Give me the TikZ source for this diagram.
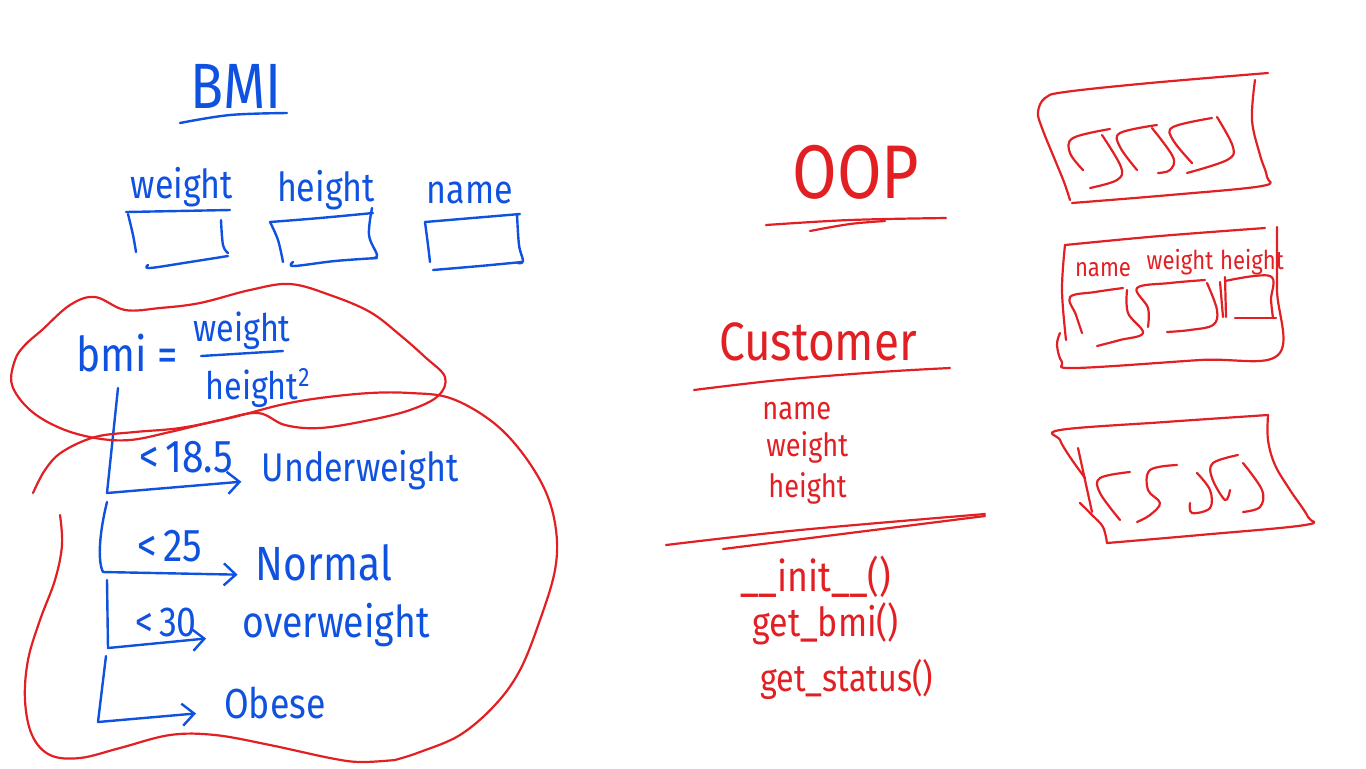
\documentclass[tikz,border=0pt]{standalone}
\usepackage{fontspec}
\setmainfont{Fira Sans}
\usetikzlibrary{arrows.meta}
\newcommand\myfs[1]{\fontsize{#1}{#1}\selectfont}
\definecolor{pblue}{RGB}{16,82,224}
\definecolor{pred}{RGB}{226,32,36}
\tikzset{
  bstroke/.style={draw=pblue, line width=1.2pt, line cap=round, line join=round},
  rstroke/.style={draw=pred, line width=1.1pt, line cap=round, line join=round},
  btext/.style={text=pblue, inner sep=0pt, xscale=0.85},
  rtext/.style={text=pred, inner sep=0pt, xscale=0.85},
  arr/.style={bstroke, -{Straight Barb[length=6pt,width=11pt]}},
  sm/.style={smooth, tension=0.6},
}
\begin{document}
\begin{tikzpicture}[x=0.5pt,y=-0.5pt]
\useasboundingbox (0,0) rectangle (1366,768);
\fill[white] (0,0) rectangle (1366,768);

% ---------------- left: BMI ----------------
\node[btext, font=\myfs{32}] (bmititle) at (236,86) {BMI};
\draw[bstroke] plot[sm] coordinates {(180,123) (230,115) (287,113)};

\node[btext, font=\myfs{20}] (wlbl) at (182,187) {weight};
\node[btext, font=\myfs{20}] (hlbl) at (326,190) {height};
\node[btext, font=\myfs{20}] (nlbl) at (470,193) {name};

% weight box
\draw[bstroke] (126,212) -- (230,210);
\draw[bstroke] plot[sm] coordinates {(128,214) (133,235) (136,252)};
\draw[bstroke] plot[sm] coordinates {(221,220) (223,245) (228,253)};
\draw[bstroke] plot[sm] coordinates {(148,265) (150,268) (190,262) (228,256)};
% height box
\draw[bstroke] plot[sm] coordinates {(270,222) (320,218) (373,213)};
\draw[bstroke] plot[sm] coordinates {(270,222) (278,240) (283,262)};
\draw[bstroke] plot[sm] coordinates {(372,208) (369,235) (377,255) (372,258)};
\draw[bstroke] plot[sm] coordinates {(293,262) (294,266) (335,261) (377,258)};
% name box
\draw[bstroke] (425,222) -- (520,214);
\draw[bstroke] plot[sm] coordinates {(425,222) (428,245) (430,262)};
\draw[bstroke] plot[sm] coordinates {(517,214) (519,245) (523,261) (518,263)};
\draw[bstroke] plot[sm] coordinates {(433,270) (480,266) (522,262)};

% formula
\node[btext, font=\myfs{24}] (bmi) at (127,353) {bmi =};
\node[btext, font=\myfs{19}] (num) at (242,331) {weight};
\node[btext, font=\myfs{19}] (den) at (258,388) {height\textsuperscript{2}};
\draw[bstroke] (201,356) -- (283,351);

% categories
\node[btext, font=\myfs{23}] (l1) at (186,457) {<\,18.5};
\node[btext, font=\myfs{20}] (uw) at (360,470) {Underweight};
\node[btext, font=\myfs{23}] (l2) at (170,546) {<\,25};
\node[btext, font=\myfs{24}] (nm) at (324,563) {Normal};
\node[btext, font=\myfs{21}] (l3) at (166,622) {<\,30};
\node[btext, font=\myfs{22}] (ow) at (336,625) {overweight};
\node[btext, font=\myfs{21}] (ob) at (275,703) {Obese};

\coordinate (t0) at (118,388);
\coordinate (t1) at (107,493);
\coordinate (t2) at (107,502);
\coordinate (t3) at (103,572);
\coordinate (t4) at (107,580);
\coordinate (t5) at (108,648);
\coordinate (t6) at (106,656);
\coordinate (t7) at (98,722);

\draw[arr, shorten >=10pt] (t0) -- (t1) -- ([yshift=-5pt]uw.west);
\draw[arr, shorten >=9pt] (t2) .. controls (100,530) and (97,560) .. (t3) -- ([yshift=-6pt]nm.west);
\draw[arr, shorten >=18pt] (t4) -- (t5) -- ([yshift=-5pt]ow.west);
\draw[arr, shorten >=14pt] (t6) -- (t7) -- ([yshift=-4pt]ob.west);

% red blobs
\draw[rstroke] plot[smooth cycle, tension=0.6] coordinates {
  (42,330) (70,305) (95,297) (125,310) (160,308) (200,303) (250,290) (290,284)
  (330,295) (370,312) (400,335) (425,357) (445,377) (438,396) (410,410) (370,420)
  (320,428) (285,425) (258,413) (220,420) (170,432) (130,440) (95,438) (60,428)
  (30,410) (12,385) (15,360) (25,345)};
\draw[rstroke] plot[sm] coordinates {
  (33,493) (45,470) (62,452) (95,437) (135,432) (180,428) (230,418) (280,405)
  (320,398) (370,393) (410,393) (450,398) (490,420) (520,450) (545,490) (556,530)
  (555,570) (540,620) (520,670) (495,705) (460,735) (420,752) (395,760)};
\draw[rstroke] plot[sm] coordinates {
  (60,515) (62,545) (55,580) (40,620) (28,660) (25,700) (32,735) (50,755)
  (80,758) (120,748) (170,735) (215,735) (270,745) (330,758) (360,762) (395,760)};

% ---------------- middle: OOP / class ----------------
\node[rtext, font=\myfs{38}] (oop) at (856,172) {OOP};
\draw[rstroke] plot[sm] coordinates {(766,225) (850,220) (946,218)};
\draw[rstroke] plot[sm] coordinates {(810,231) (850,224) (885,221)};

\node[rtext, font=\myfs{27}] (cust) at (818,342) {Customer};
\draw[rstroke] plot[sm] coordinates {(694,390) (780,380) (880,372) (950,368)};

\node[rtext, font=\myfs{16}, anchor=west] (an) at (762,411) {name};
\node[rtext, font=\myfs{16}, anchor=west] (aw) at (766,447) {weight};
\node[rtext, font=\myfs{16}, anchor=west] (ah) at (768,488) {height};

\draw[rstroke] plot[sm] coordinates {(666,545) (800,530) (985,514)};
\draw[rstroke] plot[sm] coordinates {(723,549) (850,533) (985,516)};

\node[rtext, font=\myfs{21}, anchor=west] (m1) at (740,577) {\_\_init\_\_()};
\node[rtext, font=\myfs{20}, anchor=west] (m2) at (752,624) {get\_bmi()};
\node[rtext, font=\myfs{19}, anchor=west] (m3) at (760,679) {get\_status()};

% ---------------- right: three boxes ----------------
% box 1
\draw[rstroke] plot[sm] coordinates {(1268,73) (1150,83) (1065,92) (1045,98) (1038,112) (1042,128) (1055,160) (1064,182) (1070,200)};
\draw[rstroke] plot[sm] coordinates {(1255,80) (1252,120) (1260,155) (1267,177) (1262,186) (1170,195) (1072,203)};
\draw[rstroke] plot[sm] coordinates {(1110,129) (1073,138) (1070,153) (1083,170)};
\draw[rstroke] plot[sm] coordinates {(1102,135) (1121,167) (1117,180) (1090,188)};
\draw[rstroke] plot[sm] coordinates {(1157,125) (1120,133) (1120,147) (1137,170)};
\draw[rstroke] plot[sm] coordinates {(1152,128) (1173,157) (1170,170) (1158,173)};
\draw[rstroke] plot[sm] coordinates {(1212,118) (1173,127) (1173,140) (1192,163)};
\draw[rstroke] plot[sm] coordinates {(1217,117) (1233,147) (1227,160) (1187,173)};

% box 2
\draw[rstroke] plot[sm] coordinates {(1065,245) (1160,236) (1265,228)};
\draw[rstroke] plot[sm] coordinates {(1065,245) (1062,290) (1066,340)};
\draw[rstroke] plot[sm] coordinates {(1277,227) (1277,290) (1278,355) (1200,360) (1075,368) (1062,362) (1057,345) (1060,333)};
\node[rtext, font=\myfs{13}] (bn) at (1103,270) {name};
\node[rtext, font=\myfs{13}] (bw) at (1180,262) {weight};
\node[rtext, font=\myfs{13}] (bh) at (1252,262) {height};
\draw[rstroke] plot[sm] coordinates {(1123,288) (1095,292) (1070,297) (1076,315) (1082,333)};
\draw[rstroke] plot[sm] coordinates {(1127,290) (1128,313) (1143,333) (1120,340) (1097,346)};
\draw[rstroke] plot[sm] coordinates {(1205,280) (1170,283) (1137,288) (1148,308) (1148,327)};
\draw[rstroke] plot[sm] coordinates {(1207,283) (1217,310) (1213,325) (1190,330) (1167,332)};
\draw[rstroke] (1220,282) -- (1223,317);
\draw[rstroke] (1225,277) -- (1226,317);
\draw[rstroke] plot[sm] coordinates {(1225,281) (1270,276) (1271,300) (1273,318)};
\draw[rstroke] (1235,318) -- (1276,318);

% box 3
\draw[rstroke] plot[sm] coordinates {(1268,415) (1165,422) (1060,430) (1060,440) (1070,457) (1085,478)};
\draw[rstroke] plot[sm] coordinates {(1078,448) (1085,480) (1092,512)};
\draw[rstroke] plot[sm] coordinates {(1080,503) (1092,515) (1103,527) (1107,543)};
\draw[rstroke] plot[sm] coordinates {(1107,543) (1200,535) (1305,525) (1308,517) (1290,490) (1275,465) (1268,440) (1268,415)};
\draw[rstroke] plot[sm] coordinates {(1130,472) (1100,478) (1100,493) (1120,520)};
\draw[rstroke] plot[sm] coordinates {(1177,465) (1150,470) (1148,490) (1160,503) (1150,515) (1137,522)};
\draw[rstroke] plot[sm] coordinates {(1197,473) (1210,490) (1210,508) (1192,513) (1190,503)};
\draw[rstroke] plot[sm] coordinates {(1238,455) (1213,463) (1212,478) (1225,500) (1230,490)};
\draw[rstroke] plot[sm] coordinates {(1243,463) (1262,490) (1260,507) (1243,512)};
\end{tikzpicture}
\end{document}
